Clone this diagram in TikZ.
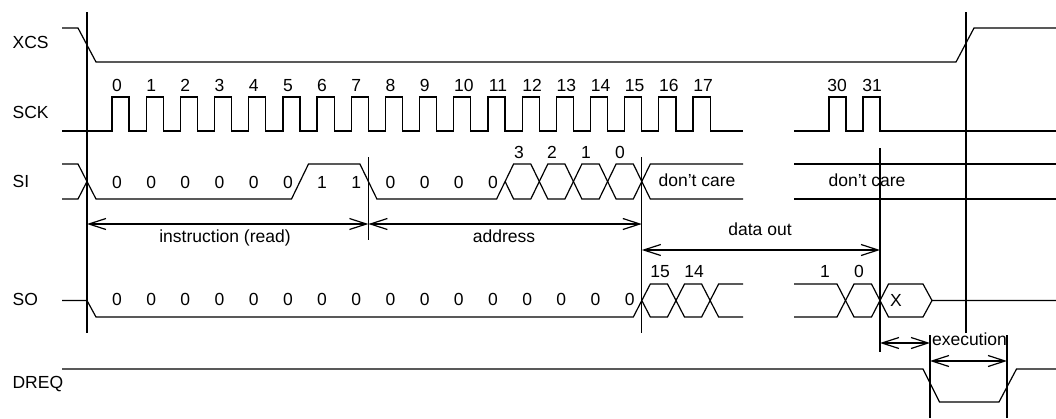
\documentclass[tikz,border=0pt]{standalone}
\usepackage{fontspec}
\setmainfont{Liberation Sans}
\usetikzlibrary{arrows.meta}
\begin{document}
\begin{tikzpicture}[x=1pt,y=-1pt,line width=1.2pt,line join=miter,
  lbl/.style={anchor=base,inner sep=0pt,font=\fontsize{17.5}{20}\selectfont},
  sname/.style={anchor=base west,inner sep=0pt,font=\fontsize{17.5}{20}\selectfont},
  dim/.style={{Straight Barb[length=17pt,width=11pt]}-{Straight Barb[length=17pt,width=11pt]}}]
\useasboundingbox (0,0) rectangle (1056,418);

% signal names
\node[sname] (nXCS) at (12,48) {XCS};
\node[sname] (nSCK) at (12,118) {SCK};
\node[sname] (nSI) at (12,187) {SI};
\node[sname] (nSO) at (12,305) {SO};
\node[sname] (nDREQ) at (12,388) {DREQ};

% XCS
\draw (62,28) -- (78,28) -- (96,62) -- (956,62) -- (974,28) -- (1056,28);

% SCK
\draw (62,131) \foreach \i in {0,...,17}{ -- ({112+34.18*\i},131) -- ({112+34.18*\i},97) -- ({129.09+34.18*\i},97) -- ({129.09+34.18*\i},131)} -- (743,131);
\draw (794,131) -- (829,131) -- (829,97) -- (846,97) -- (846,131) -- (863,131) -- (863,97) -- (880,97) -- (880,131) -- (1056,131);
\foreach \i in {0,...,9}{\node[lbl] (ck\i) at ({117+34.18*\i},91) {\i};}
\foreach \i in {10,...,17}{\node[lbl] (ck\i) at ({122+34.18*\i},91) {\i};}
\node[lbl] (ck30) at (837,91) {30};
\node[lbl] (ck31) at (872,91) {31};

% SI
\draw (62,164) -- (78,164) -- (96,199) -- (291.5,199) -- (308.5,164) -- (359.9,164) -- (376.9,199)
  -- (496.6,199) -- (513.6,164) -- (530.8,164) -- (547.8,199) -- (564.9,199) -- (581.9,164)
  -- (599.1,164) -- (616.1,199) -- (633.3,199) -- (650.3,164) -- (743,164);
\draw (62,199) -- (78,199) -- (87,181.5);
\draw (505.1,181.5) -- (513.6,199) -- (530.8,199) -- (547.8,164) -- (564.9,164) -- (581.9,199)
  -- (599.1,199) -- (616.1,164) -- (633.3,164) -- (650.3,199) -- (743,199);
\draw (794,164) -- (1056,164);
\draw (794,199) -- (1056,199);
\foreach \v [count=\i from 0] in {0,0,0,0,0,0,1,1,0,0,0,0}{\node[lbl] (si\i) at ({117+34.18*\i},188) {\v};}
\node[lbl] (a3) at (519,158) {3};
\node[lbl] (a2) at (552,158) {2};
\node[lbl] (a1) at (586,158) {1};
\node[lbl] (a0) at (620,158) {0};
\node[sname] (dc1) at (658,186) {don’t care};
\node[sname] (dc2) at (828,186) {don’t care};

% SO
\draw (62,300.5) -- (87,300.5) -- (96,317) -- (633.3,317) -- (650.3,284) -- (667.5,284) -- (684.5,317)
  -- (701.6,317) -- (718.6,284) -- (743,284);
\draw (641.8,300.5) -- (650.3,317) -- (667.5,317) -- (684.5,284) -- (701.6,284) -- (718.6,317) -- (743,317);
\draw (794,284) -- (837,284) -- (854,317) -- (871.5,317) -- (888.5,284) -- (923,284) -- (932,300.5) -- (1056,300.5);
\draw (794,317) -- (837,317) -- (854,284) -- (871.5,284) -- (888.5,317) -- (923,317) -- (932,300.5);
\foreach \i in {0,...,15}{\node[lbl] (so\i) at ({117+34.18*\i},305) {0};}
\node[lbl] (d15) at (660,277) {15};
\node[lbl] (d14) at (694,277) {14};
\node[lbl] (d1) at (825,277) {1};
\node[lbl] (d0) at (859,277) {0};
\node[lbl] (dX) at (896,306) {X};

% DREQ
\draw (62,369) -- (923,369) -- (939.5,402) -- (999,402) -- (1016.5,369) -- (1056,369);

% vertical marker lines
\coordinate (v1t) at (87,12);     \coordinate (v1b) at (87,333);
\coordinate (v2t) at (368.4,157); \coordinate (v2b) at (368.4,240);
\coordinate (v3t) at (641.8,157); \coordinate (v3b) at (641.8,333);
\coordinate (v4t) at (880,148);   \coordinate (v4b) at (880,352);
\coordinate (v5t) at (966,12);    \coordinate (v5b) at (966,333);
\coordinate (v6t) at (930,335);   \coordinate (v6b) at (930,418);
\coordinate (v7t) at (1007,335);  \coordinate (v7b) at (1007,418);
\foreach \k in {1,...,7}{\draw (v\k t) -- (v\k b);}

% dimension arrows
\coordinate (i1) at (87,224);    \coordinate (i2) at (368.4,224);  \coordinate (i3) at (641.8,224);
\coordinate (o1) at (641.8,250); \coordinate (o2) at (880,250);
\coordinate (e1) at (880,343);   \coordinate (e2) at (930,343);
\coordinate (x1) at (930,361);   \coordinate (x2) at (1007,361);
\draw[dim] (i1) -- (i2);
\draw[dim] (i2) -- (i3);
\draw[dim] (o1) -- (o2);
\draw[dim] (e1) -- (e2);
\draw[dim] (x1) -- (x2);
\node[lbl] (tinst) at (225,242) {instruction (read)};
\node[lbl] (taddr) at (504,242) {address};
\node[lbl] (tdata) at (760,235) {data out};
\node[lbl] (texec) at (969.5,345) {execution};
\end{tikzpicture}
\end{document}
